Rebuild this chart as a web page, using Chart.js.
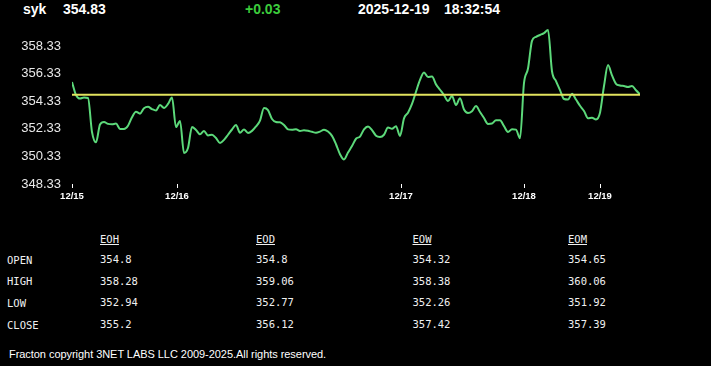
<!DOCTYPE html>
<html lang="en">
<head>
<meta charset="UTF-8">
<title>syk</title>
<script src="https://cdn.jsdelivr.net/npm/chart.js"></script>
<style>
    body { margin: 0; background: #000; width: 711px; height: 366px; overflow: hidden; position: relative; }
    .hd { position: absolute; top: 1px; font: bold 14px "Liberation Sans", Arial, sans-serif; line-height: 16px; color: #fff; white-space: nowrap; }
    .tb { position: absolute; font: 10.5px "DejaVu Sans Mono", monospace; line-height: 12px; color: #f0f0f0; white-space: nowrap; }
    .tb.h { text-decoration: underline; }
    #foot { position: absolute; left: 9px; top: 348px; font: 11px "Liberation Sans", Arial, sans-serif; line-height: 13px; color: #fff; white-space: nowrap; letter-spacing: -0.05px; }
    #wrap { position: absolute; left: 0; top: 0; width: 711px; height: 215px; }
</style>
</head>
<body>
<div class="hd" style="left:23px">syk</div>
<div class="hd" style="left:63px">354.83</div>
<div class="hd" style="left:245px;color:#3ccc3c">+0.03</div>
<div class="hd" style="left:358px">2025-12-19</div>
<div class="hd" style="left:444px">18:32:54</div>
<div id="wrap"><canvas id="chart"></canvas></div>
<div id="table"></div>
<div id="foot">Fracton copyright 3NET LABS LLC 2009-2025.All rights reserved.</div>

<script>
    // intraday prices, one sample per step
    const prices = [
        355.72, 354.78, 354.52, 354.60, 354.56, 352.10, 351.35, 352.64, 352.82, 352.69,
        352.66, 352.71, 352.32, 352.31, 352.55, 353.17, 353.57, 353.43, 353.82, 353.92,
        353.76, 353.66, 354.05, 353.84, 354.13, 354.60, 352.46, 352.90, 350.58, 350.94,
        352.46, 352.24, 351.93, 352.17, 351.85, 351.90, 351.66, 351.30, 351.53, 351.90,
        352.28, 352.61, 352.05, 352.28, 352.03, 352.18, 352.50, 352.93, 353.84, 353.69,
        353.04, 352.83, 352.80, 352.61, 352.29, 352.26, 352.29, 352.17, 352.23, 352.19,
        352.11, 352.05, 352.13, 352.26, 352.13, 351.82, 351.21, 350.49, 350.11, 350.61,
        351.08, 351.61, 351.77, 352.29, 352.50, 352.24, 351.83, 351.74, 351.90, 352.42,
        352.33, 352.52, 351.81, 353.09, 353.50, 354.13, 355.02, 355.87, 356.41, 356.08,
        356.12, 355.55, 355.16, 354.78, 354.34, 354.71, 354.05, 354.54, 353.73, 353.48,
        353.61, 353.98, 353.55, 353.11, 352.68, 352.71, 352.95, 352.95, 352.52, 352.10,
        352.30, 352.27, 351.64, 355.65, 356.70, 358.70, 359.00, 359.13, 359.26, 359.49,
        356.50, 355.79, 355.14, 354.49, 354.45, 354.88, 354.45, 354.00, 353.62, 353.09,
        353.13, 353.01, 353.50, 355.43, 356.95, 356.20, 355.59, 355.47, 355.43, 355.36,
        355.43, 355.12, 354.83
    ];
    const openPrice = 354.8;

    const dayTicks = [0, 26.25, 82.25, 113, 132];
    const dayLabels = ['12/15', '12/16', '12/17', '12/18', '12/19'];
    const priceTicks = [348.33, 350.33, 352.33, 354.33, 356.33, 358.33];

    const rowNames = ['OPEN', 'HIGH', 'LOW', 'CLOSE'];
    const colNames = ['EOH', 'EOD', 'EOW', 'EOM'];
    const eoh = ['354.8', '358.28', '352.94', '355.2'];
    const eod = ['354.8', '359.06', '352.77', '356.12'];
    const eow = ['354.32', '358.38', '352.26', '357.42'];
    const eom = ['354.65', '360.06', '351.92', '357.39'];

    // table below the chart
    let cols = [eoh, eod, eow, eom];
    let colX = [100, 256, 412.5, 568];
    let rowTop = [253.6, 275.3, 297, 318.7];
    let html = '';
    colNames.forEach((c, j) => {
        html += `<div class="tb h" style="left:${colX[j]}px;top:232.5px">${c}</div>`;
    });
    rowNames.forEach((r, i) => {
        html += `<div class="tb" style="left:7px;top:${rowTop[i]}px">${r}</div>`;
        cols.forEach((col, j) => {
            html += `<div class="tb" style="left:${colX[j]}px;top:${rowTop[i] - 0.8}px">${col[i]}</div>`;
        });
    });
    document.getElementById('table').innerHTML = html;

    let last = prices.length - 1;
    new Chart(document.getElementById('chart'), {
        type: 'line',
        data: {
            datasets: [
                {
                    data: [{ x: 0, y: openPrice }, { x: last, y: openPrice }],
                    borderColor: '#e2e35e',
                    borderWidth: 2,
                    pointRadius: 0
                },
                {
                    data: prices.map((p, i) => ({ x: i, y: p })),
                    borderColor: '#5cd97a',
                    borderWidth: 2,
                    pointRadius: 0,
                    tension: 0.3,
                    cubicInterpolationMode: 'monotone'
                }
            ]
        },
        options: {
            responsive: true,
            maintainAspectRatio: false,
            animation: false,
            layout: { padding: { left: 0, right: 71, top: 28.5, bottom: 0 } },
            plugins: { legend: { display: false }, tooltip: { enabled: false } },
            scales: {
                x: {
                    type: 'linear',
                    min: 0,
                    max: last,
                    afterBuildTicks: axis => { axis.ticks = dayTicks.map(v => ({ value: v })); },
                    afterFit: axis => { axis.height = 31; },
                    border: { display: false },
                    grid: { drawOnChartArea: false, drawTicks: true, tickLength: 4, color: '#ffffff', lineWidth: 1 },
                    ticks: {
                        autoSkip: false,
                        maxRotation: 0,
                        padding: 3,
                        color: '#ffffff',
                        font: { family: 'Liberation Sans', size: 9.5, weight: 'bold' },
                        callback: v => dayLabels[dayTicks.indexOf(v)]
                    }
                },
                y: {
                    min: 348.33,
                    max: 359.6,
                    afterBuildTicks: axis => { axis.ticks = priceTicks.map(v => ({ value: v })); },
                    afterFit: axis => { axis.width = 72; },
                    border: { display: false },
                    grid: { display: false, drawTicks: false },
                    ticks: {
                        padding: 11,
                        color: '#e8e8e8',
                        font: { family: 'Liberation Sans', size: 13 },
                        callback: v => v.toFixed(2)
                    }
                }
            }
        }
    });
</script>
</body>
</html>
